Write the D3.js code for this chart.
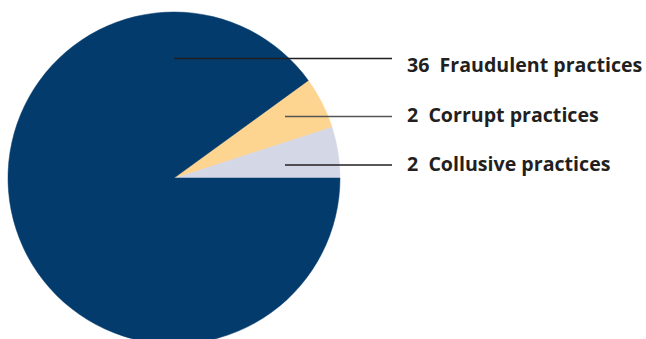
<!DOCTYPE html>
<html>
<head>
<meta charset="utf-8">
<script src="https://cdn.jsdelivr.net/npm/d3@7"></script>
<style>
    body { margin: 0; background: #fff; }
    svg { display: block; }
    .label { font-family: "Open Sans", sans-serif; font-weight: bold; font-size: 19.6px; fill: #231f20; white-space: pre; }
</style>
</head>
<body>
<div id="chart"></div>
<script>

// Chart data
const categories = ["Collusive practices", "Corrupt practices", "Fraudulent practices"];
const values = [2, 2, 36];
const colours = ["#d3d7e6", "#fdd490", "#033b6c"];

// Layout
const width = 646, height = 339;
const cx = 174, cy = 178, radius = 166;
const labelX = 407, lineEndX = 392;
const labelY = [171, 122, 72];     // text baselines
const lineY = [165, 116.5, 58.5];  // leader lines
const lineStart = [111, 111, 0];   // offset from centre
const lineColours = ["#231f20", "#555", "#231f20"];

const svg = d3.select("#chart")
    .append("svg")
    .attr("width", width)
    .attr("height", height);

const g = svg.append("g")
    .attr("transform", `translate(${cx}, ${cy})`);

// Slices start at 3 o'clock and go anticlockwise
const pie = d3.pie()
    .sort(null)
    .value((d) => d)
    .startAngle(Math.PI / 2)
    .endAngle(Math.PI / 2 - 2 * Math.PI);

const arc = d3.arc()
    .innerRadius(0)
    .outerRadius(radius);

g.selectAll("path")
    .data(pie(values))
    .enter()
    .append("path")
    .attr("d", arc)
    .attr("fill", (d, i) => colours[i])
    .attr("stroke", (d, i) => colours[i])
    .attr("stroke-width", 0.5);

// Leader lines
svg.selectAll("line.leader")
    .data(categories)
    .enter()
    .append("line")
    .attr("class", "leader")
    .attr("x1", (d, i) => cx + lineStart[i])
    .attr("x2", lineEndX)
    .attr("y1", (d, i) => lineY[i])
    .attr("y2", (d, i) => lineY[i])
    .attr("stroke", (d, i) => lineColours[i])
    .attr("stroke-width", 1.3);

// Labels
svg.selectAll("text.label")
    .data(categories)
    .enter()
    .append("text")
    .attr("class", "label")
    .attr("x", labelX)
    .attr("y", (d, i) => labelY[i])
    .text((d, i) => `${values[i]}  ${d}`);
</script>
</body>
</html>
